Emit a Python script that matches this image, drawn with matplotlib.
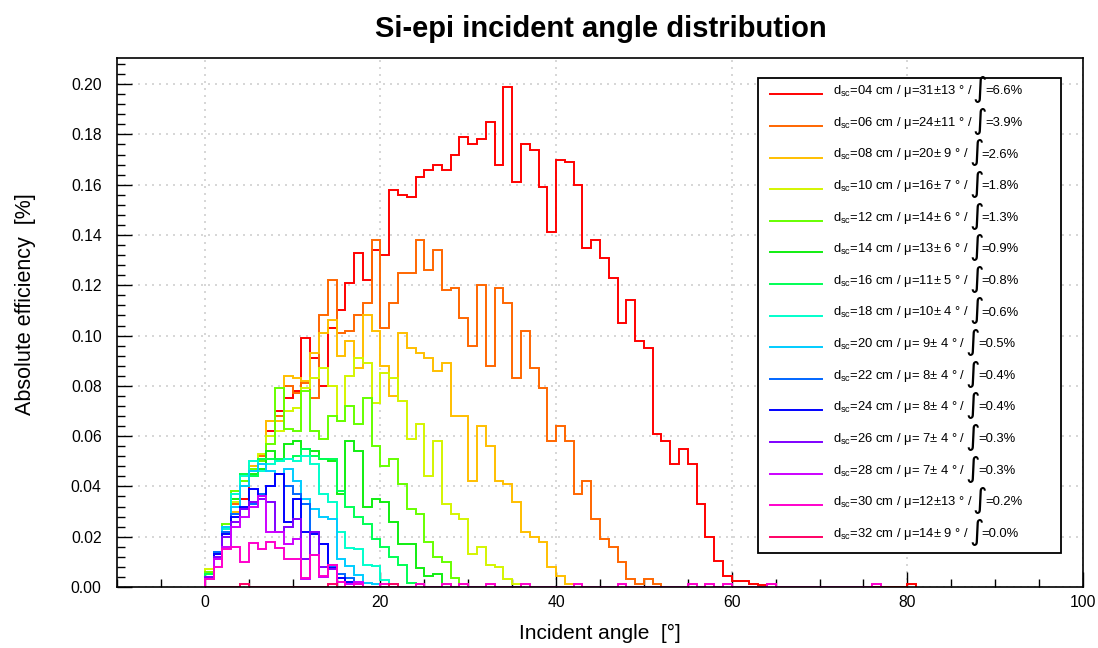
import numpy as np
import matplotlib
matplotlib.use("Agg")
import matplotlib.pyplot as plt
from matplotlib.lines import Line2D
from matplotlib.patches import Rectangle
from matplotlib.text import Annotation
from matplotlib.ticker import MultipleLocator, FormatStrFormatter

plt.rcParams['font.family'] = ['Liberation Sans', 'DejaVu Sans']
plt.rcParams['mathtext.fontset'] = 'custom'
plt.rcParams['mathtext.rm'] = 'Liberation Sans'
plt.rcParams['mathtext.it'] = 'Liberation Sans:italic'

# absolute efficiency [%] in 1 degree bins starting at 0 deg, one list per scintillator distance
h04 = [0.004, 0.011, 0.023, 0.037, 0.035, 0.048, 0.050, 0.062, 0.070, 0.075,
       0.078, 0.099, 0.091, 0.080, 0.103, 0.110, 0.121, 0.133, 0.122, 0.134,
       0.132, 0.158, 0.156, 0.155, 0.163, 0.166, 0.168, 0.166, 0.172, 0.179,
       0.176, 0.178, 0.185, 0.168, 0.199, 0.161, 0.176, 0.174, 0.159, 0.141,
       0.170, 0.169, 0.160, 0.135, 0.138, 0.131, 0.123, 0.105, 0.114, 0.098,
       0.095, 0.061, 0.058, 0.049, 0.055, 0.049, 0.033, 0.020, 0.0104, 0.0042,
       0.0022, 0.0022, 0.0012, 0.0006, 0.0012, 0, 0, 0, 0, 0,
       0, 0, 0, 0, 0, 0, 0, 0, 0, 0, 0.0012]
h06 = [0.004, 0.013, 0.022, 0.033, 0.045, 0.048, 0.052, 0.066, 0.068, 0.080,
       0.077, 0.081, 0.075, 0.108, 0.122, 0.101, 0.102, 0.108, 0.113, 0.138,
       0.103, 0.113, 0.125, 0.125, 0.138, 0.126, 0.134, 0.118, 0.119, 0.107,
       0.096, 0.120, 0.088, 0.119, 0.113, 0.083, 0.102, 0.087, 0.079, 0.058,
       0.064, 0.058, 0.037, 0.042, 0.027, 0.019, 0.016, 0.0099, 0.0033, 0.0013,
       0.0033, 0.0013]
h08 = [0.005, 0.013, 0.024, 0.030, 0.045, 0.048, 0.051, 0.066, 0.066, 0.084,
       0.083, 0.082, 0.093, 0.101, 0.106, 0.092, 0.098, 0.087, 0.108, 0.102,
       0.088, 0.076, 0.101, 0.095, 0.093, 0.091, 0.086, 0.089, 0.068, 0.068,
       0.042, 0.064, 0.056, 0.042, 0.041, 0.034, 0.022, 0.020, 0.018, 0.008,
       0.0045, 0.001]
h10 = [0.007, 0.014, 0.024, 0.034, 0.040, 0.046, 0.053, 0.060, 0.062, 0.070,
       0.071, 0.079, 0.083, 0.087, 0.080, 0.066, 0.084, 0.091, 0.089, 0.073,
       0.085, 0.083, 0.074, 0.059, 0.065, 0.044, 0.058, 0.033, 0.029, 0.027,
       0.013, 0.016, 0.0088, 0.0081, 0.003, 0.001]
h12 = [0.006, 0.014, 0.025, 0.038, 0.042, 0.047, 0.050, 0.057, 0.079, 0.063,
       0.062, 0.078, 0.062, 0.059, 0.068, 0.066, 0.072, 0.065, 0.075, 0.056,
       0.048, 0.051, 0.041, 0.031, 0.029, 0.018, 0.012, 0.010, 0.0035, 0.001]
h14 = [0.005, 0.013, 0.024, 0.035, 0.040, 0.045, 0.047, 0.054, 0.050, 0.057,
       0.058, 0.055, 0.054, 0.051, 0.050, 0.037, 0.058, 0.054, 0.032, 0.035,
       0.034, 0.026, 0.017, 0.017, 0.0075, 0.0042, 0.0053, 0.0012]
h16 = [0.005, 0.014, 0.024, 0.037, 0.045, 0.044, 0.051, 0.051, 0.051, 0.051,
       0.052, 0.055, 0.052, 0.051, 0.051, 0.038, 0.032, 0.028, 0.025, 0.019,
       0.016, 0.012, 0.0088, 0.0014, 0.001]
h18 = [0.004, 0.014, 0.023, 0.037, 0.044, 0.050, 0.046, 0.049, 0.050, 0.051,
       0.050, 0.052, 0.049, 0.037, 0.034, 0.022, 0.0155, 0.015, 0.0088, 0.0084,
       0.0029, 0.001]
h20 = [0.004, 0.014, 0.024, 0.032, 0.040, 0.046, 0.049, 0.046, 0.045, 0.047,
       0.042, 0.035, 0.031, 0.028, 0.027, 0.011, 0.0085, 0.0049, 0.0015, 0.001]
h22 = [0.003, 0.014, 0.022, 0.029, 0.031, 0.033, 0.037, 0.040, 0.045, 0.040,
       0.037, 0.033, 0.022, 0.017, 0.008, 0.005, 0.0035, 0.001]
h24 = [0.003, 0.013, 0.021, 0.028, 0.032, 0.039, 0.036, 0.040, 0.045, 0.026,
       0.035, 0.022, 0.021, 0.017, 0.0075, 0.0035, 0.002, 0.001]
h26 = [0.004, 0.012, 0.020, 0.026, 0.031, 0.034, 0.035, 0.034, 0.022, 0.024,
       0.027, 0.011, 0.022, 0.008, 0.0073, 0.002, 0.001]
h28 = [0.003, 0.011, 0.016, 0.024, 0.028, 0.032, 0.036, 0.022, 0.022, 0.017,
       0.019, 0.0033, 0.0126, 0.004, 0.0086, 0.002, 0.001, 0.002]
h30 = [0.003, 0.008, 0.015, 0.016, 0.010, 0.0175, 0.015, 0.018, 0.0155, 0.0112,
       0.011, 0.0035, 0.0128, 0.0042, 0.0088, 0.0018, 0, 0.0013, 0, 0,
       0.0013, 0, 0, 0, 0.0013, 0, 0, 0.0013, 0, 0.0013,
       0, 0, 0.0013, 0, 0, 0, 0.0013, 0, 0, 0,
       0, 0, 0.0013, 0, 0, 0, 0, 0.0013, 0, 0,
       0, 0, 0, 0, 0, 0.0013, 0, 0.0013, 0, 0.0013,
       0, 0, 0, 0, 0.0013, 0, 0, 0, 0, 0,
       0, 0, 0, 0, 0, 0, 0.0013]
h32 = [0, 0, 0, 0, 0.001, 0, 0, 0, 0, 0,
       0, 0, 0, 0, 0.001, 0, 0, 0, 0, 0,
       0, 0.001]

distances = ['04', '06', '08', '10', '12', '14', '16', '18', '20', '22', '24', '26', '28', '30', '32']
means = [31, 24, 20, 16, 14, 13, 11, 10, 9, 8, 8, 7, 7, 12, 14]
sigmas = [13, 11, 9, 7, 6, 6, 5, 4, 4, 4, 4, 4, 4, 13, 9]
integrals = [6.6, 3.9, 2.6, 1.8, 1.3, 0.9, 0.8, 0.6, 0.5, 0.4, 0.4, 0.3, 0.3, 0.2, 0.0]
colors = ['#ff0000', '#ff6600', '#ffbf00', '#d4f500', '#66ff00', '#11ee11', '#00ff55', '#00ffcc',
          '#00ccff', '#0066ff', '#0000ff', '#7f00ff', '#cc00ff', '#ff00cc', '#ff0066']
hists = [h04, h06, h08, h10, h12, h14, h16, h18, h20, h22, h24, h26, h28, h30, h32]

W, H = 1098, 648
fig = plt.figure(figsize=(W / 100, H / 100), dpi=100)
ax = fig.add_axes([117 / W, 1 - 587 / H, 966 / W, 529 / H])

for h, c in zip(hists, colors):
    edges = np.arange(len(h) + 1)
    ax.stairs(h, edges, color=c, lw=1.4)

ax.set_xlim(-10, 100)
ax.set_ylim(0, 0.2104)
ax.xaxis.set_major_locator(MultipleLocator(20))
ax.xaxis.set_minor_locator(MultipleLocator(5))
ax.yaxis.set_major_locator(MultipleLocator(0.02))
ax.yaxis.set_minor_locator(MultipleLocator(0.004))
ax.yaxis.set_major_formatter(FormatStrFormatter('%.2f'))
ax.tick_params(which='both', direction='in', top=False, right=False, labelsize=11.3, width=1)
ax.tick_params(which='major', length=11)
ax.tick_params(which='minor', length=5.5)
ax.tick_params(axis='x', pad=6)
ax.tick_params(axis='y', pad=11)
ax.grid(True, which='major', color='#d0d0d0', linestyle=(0, (1.2, 3)), lw=1.2)
ax.set_axisbelow(True)
for s in ax.spines.values():
    s.set_linewidth(1.2)

ax.set_xlabel('Incident angle  [°]', fontsize=15, labelpad=10)
ax.set_ylabel('Absolute efficiency  [%]', fontsize=15.5)
ax.yaxis.set_label_coords(-0.084, 0.535)
fig.text(601 / W, 1 - 29 / H, 'Si-epi incident angle distribution',
         fontsize=21, fontweight='bold', ha='center', va='center')

# legend box drawn by hand so the integral sign can be taller than the text
fig.add_artist(Rectangle((758 / W, 1 - 553 / H), 303 / W, 475 / H, transform=fig.transFigure,
                         facecolor='white', edgecolor='black', lw=1.3, zorder=5))
for i in range(len(distances)):
    yrow = 1 - (94.3 + i * 31.6) / H
    fig.add_artist(Line2D([770 / W, 822 / W], [yrow, yrow], color=colors[i], lw=1.4, zorder=6))
    label = 'd$_{\\rm sc}$=%s cm / \u03bc=%2d\u00b1%2d \u00b0 /' % (distances[i], means[i], sigmas[i])
    t = fig.text(833 / W, yrow, label, fontsize=9.4, va='baseline', ha='left', zorder=6)
    integ = Annotation('\u222b', xy=(1, yrow + 5 / H), xycoords=(t, 'figure fraction'),
                       xytext=(0, 0), textcoords='offset points', fontsize=20,
                       family='DejaVu Sans', va='center', ha='left', zorder=6)
    fig.add_artist(integ)
    val = Annotation('=%.1f%%' % integrals[i], xy=(1, yrow), xycoords=(integ, 'figure fraction'),
                     xytext=(-1.5, 0), textcoords='offset points', fontsize=9.4,
                     va='baseline', ha='left', zorder=6)
    fig.add_artist(val)

fig.savefig('out.png', dpi=100, facecolor='white')
